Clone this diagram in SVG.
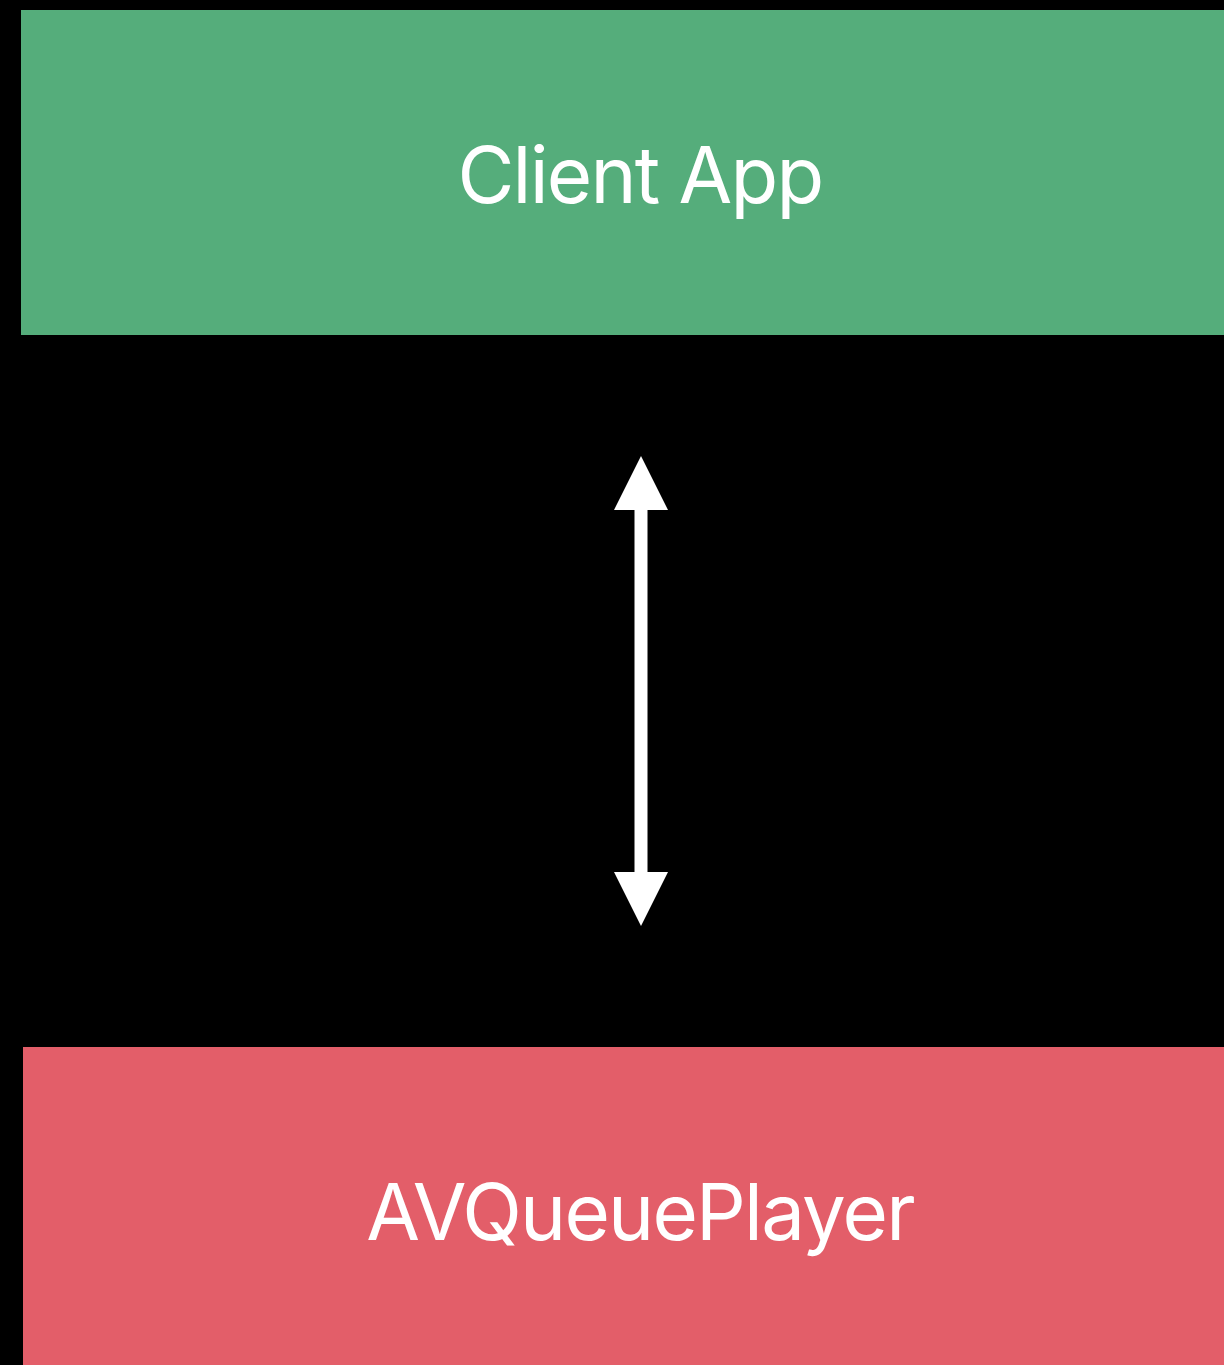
<svg xmlns="http://www.w3.org/2000/svg" width="1224" height="1365" viewBox="0 0 1224 1365">
  <style>
    .label { font-family: Inter, "Noto Sans", "Liberation Sans", sans-serif; font-size: 78px; letter-spacing: -1.8px; fill: #ffffff; text-anchor: middle; }
    .link { stroke: #ffffff; stroke-width: 13; fill: none; }
    .head { fill: #ffffff; }
  </style>
  <rect width="1224" height="1365" fill="#000000"/>
  <g id="client-app">
    <rect x="21" y="10" width="1203" height="325" fill="#55ad7b"/>
    <text class="label" x="640" y="203">Client App</text>
  </g>
  <g id="av-queue-player">
    <rect x="23" y="1047" width="1201" height="318" fill="#e35e69"/>
    <text class="label" x="640" y="1240">AVQueuePlayer</text>
  </g>
  <g id="connectors">
    <line class="link" x1="641" y1="505" x2="641" y2="877"/>
    <polygon class="head" points="641,456 668,510 614,510"/>
    <polygon class="head" points="641,926 668,872 614,872"/>
  </g>
</svg>
